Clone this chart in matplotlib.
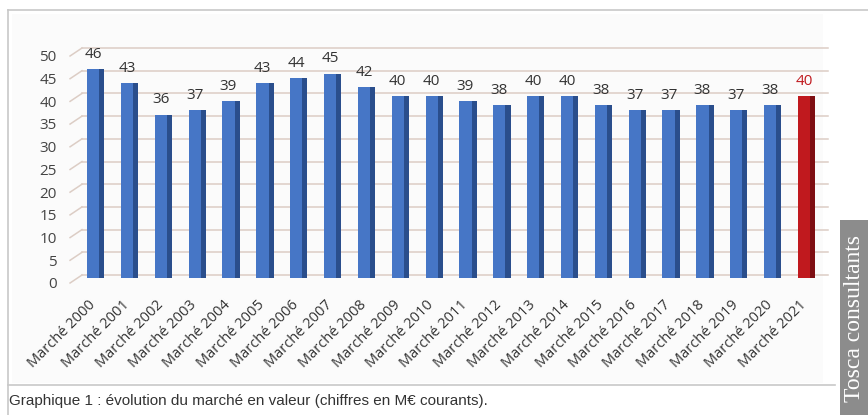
import matplotlib.pyplot as plt
from matplotlib.patches import Rectangle

# === Data ===
years = list(range(2000, 2022))
labels = [f"Marché {y}" for y in years]
values = [46, 43, 36, 37, 39, 43, 44, 45, 42, 40, 40, 39, 38, 40, 40, 38, 37, 37, 38, 37, 38, 40]
yticks = list(range(0, 51, 5))
highlight = "Marché 2021"

blue, blue_dark = "#4676C6", "#2A4E8C"
red, red_dark = "#C0191E", "#7E0E12"
grid_col = "#DCCDC5"

fig = plt.figure(figsize=(8.68, 4.15), dpi=100)
W, H = 868, 415

def fx(px):
    return px / W

def fy(py):
    return 1 - py / H

# === Frame, caption, side tag ===
fig.patches.append(Rectangle((fx(12), fy(383)), fx(823) - fx(12), fy(14) - fy(383),
                             transform=fig.transFigure, facecolor="#FBFBFB", edgecolor="none", zorder=-5))
fig.add_artist(plt.Line2D([fx(8), fx(868)], [fy(10), fy(10)], color="#C8C8C8", lw=1.2))
fig.add_artist(plt.Line2D([fx(8), fx(8)], [fy(10), fy(415)], color="#C8C8C8", lw=1.2))
fig.add_artist(plt.Line2D([fx(8), fx(835)], [fy(385), fy(385)], color="#C8C8C8", lw=1.2))
fig.text(fx(9), fy(401), "Graphique 1 : évolution du marché en valeur (chiffres en M€ courants).",
         family="Liberation Sans", fontsize=11, color="#333333", va="center", ha="left")
fig.patches.append(Rectangle((fx(840), 0), 1 - fx(840), fy(220),
                             transform=fig.transFigure, facecolor="#8C8C8C", edgecolor="none"))
fig.text(fx(854), fy(318), "Tosca consultants", family="Liberation Serif", fontsize=17,
         color="white", rotation=90, ha="center", va="center")

# === Chart ===
ax = fig.add_axes([fx(82), fy(278), fx(828) - fx(82), fy(51) - fy(278)], zorder=2)
ax.set_facecolor("none")
x = list(range(len(values)))
cols = [red if l == highlight else blue for l in labels]
dcols = [red_dark if l == highlight else blue_dark for l in labels]

# 3D-ish look: dark side face behind the front face
ax.bar([i + 0.12 for i in x], values, width=0.42, color=dcols, zorder=2)
ax.bar(x, values, width=0.36, color=cols, zorder=3)

for i, v in enumerate(values):
    ax.text(i, v + 1.6, str(v), ha="center", va="bottom", family="Open Sans", fontsize=11,
            color="#C0191E" if labels[i] == highlight else "#333333")

ax.set_ylim(0, 50)
ax.set_xlim(-0.33, len(values) - 0.29)

# back wall gridlines sit a bit above the bar scale, floor diagonals on the left,
# value labels a bit below (Excel 3D column look)
ytr = ax.get_yaxis_transform()
for t in yticks:
    ax.plot([0, 1], [t + 0.66, t + 0.66], color=grid_col, lw=1.1, zorder=0,
            transform=ytr, clip_on=False)
    ax.plot([-0.016, 0], [t - 1.1, t + 0.66], color=grid_col, lw=1.1, zorder=0,
            transform=ytr, clip_on=False)
    ax.text(-0.034, t - 1.5, str(t), transform=ytr, ha="right", va="center",
            family="Open Sans", fontsize=11, color="#444444")

ax.set_yticks([])
ax.set_xticks(x)
ax.set_xticklabels(labels, rotation=45, ha="right", va="center", rotation_mode="anchor",
                   family="Open Sans", fontsize=10.5, color="#333333")
ax.tick_params(axis="both", length=0)
ax.tick_params(axis="x", pad=18)
for s in ax.spines.values():
    s.set_visible(False)

plt.savefig("out.png", dpi=100)
